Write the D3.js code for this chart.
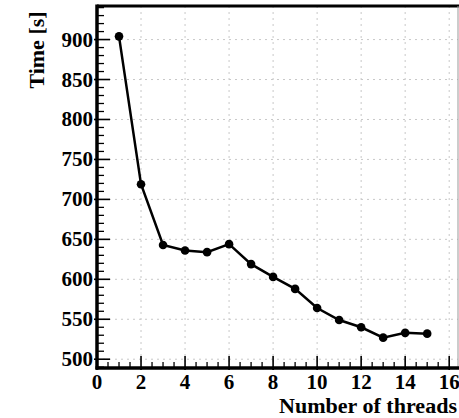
<!DOCTYPE html>
<html>
<head>
  <script src="https://d3js.org/d3.v7.min.js"></script>
  <style>
    body { margin: 0; background: #fff; }
    .tick-label { font-family: "Liberation Serif", "Times New Roman", serif; font-weight: bold; font-size: 21px; fill: #000; }
    .axis-title { font-family: "Liberation Serif", "Times New Roman", serif; font-weight: bold; fill: #000; }
  </style>
</head>
<body>
  <div id="chart"></div>
  <script>
    // thread count vs run time
    const threads = [1, 2, 3, 4, 5, 6, 7, 8, 9, 10, 11, 12, 13, 14, 15];
    const times = [904, 719, 643, 636, 634, 644, 619, 603, 588, 564, 549, 540, 527, 533, 532];
    const xTicks = [0, 2, 4, 6, 8, 10, 12, 14, 16];
    const yTicks = [500, 550, 600, 650, 700, 750, 800, 850, 900];

    const W = 459, H = 418;
    const pl = 97, pr = 458, pt = 6, pb = 368;

    const svg = d3.select("#chart").append("svg")
      .attr("width", W).attr("height", H);

    const x = d3.scaleLinear().domain([0, 16.4]).range([pl, pr]);
    const y = d3.scaleLinear().domain([489, 942]).range([pb, pt]);

    // dotted grid
    svg.append("g").selectAll("line")
      .data(xTicks.filter(d => d > 0))
      .enter().append("line")
      .attr("x1", d => x(d)).attr("x2", d => x(d))
      .attr("y1", pt).attr("y2", pb)
      .attr("stroke", "#c8c8c8").attr("stroke-width", 1)
      .attr("stroke-dasharray", "2,4");

    svg.append("g").selectAll("line")
      .data(yTicks)
      .enter().append("line")
      .attr("x1", pl).attr("x2", pr)
      .attr("y1", d => y(d)).attr("y2", d => y(d))
      .attr("stroke", "#c8c8c8").attr("stroke-width", 1)
      .attr("stroke-dasharray", "2,4");

    // minor ticks
    const xMinor = d3.range(0.5, 16.01, 0.5).filter(d => d % 2 !== 0);
    svg.append("g").selectAll("line")
      .data(xMinor).enter().append("line")
      .attr("x1", d => x(d)).attr("x2", d => x(d))
      .attr("y1", pb).attr("y2", pb - 6)
      .attr("stroke", "#000").attr("stroke-width", 1.3);

    const yMinor = d3.range(490, 941, 10).filter(d => d % 50 !== 0);
    svg.append("g").selectAll("line")
      .data(yMinor).enter().append("line")
      .attr("x1", pl).attr("x2", pl + 7)
      .attr("y1", d => y(d)).attr("y2", d => y(d))
      .attr("stroke", "#000").attr("stroke-width", 1.3);

    // major ticks
    svg.append("g").selectAll("line")
      .data(xTicks).enter().append("line")
      .attr("x1", d => x(d)).attr("x2", d => x(d))
      .attr("y1", pb + 2).attr("y2", pb - 12)
      .attr("stroke", "#000").attr("stroke-width", 1.6);

    svg.append("g").selectAll("line")
      .data(yTicks).enter().append("line")
      .attr("x1", pl - 3).attr("x2", pl + 13)
      .attr("y1", d => y(d)).attr("y2", d => y(d))
      .attr("stroke", "#000").attr("stroke-width", 1.6);

    // frame
    svg.append("line").attr("x1", pl).attr("x2", W).attr("y1", pt).attr("y2", pt)
      .attr("stroke", "#000").attr("stroke-width", 3);
    svg.append("line").attr("x1", pr).attr("x2", pr).attr("y1", pt).attr("y2", pb)
      .attr("stroke", "#999").attr("stroke-width", 1);
    svg.append("line").attr("x1", pl).attr("x2", pl).attr("y1", pt - 1.5).attr("y2", pb + 1.5)
      .attr("stroke", "#000").attr("stroke-width", 3.5);
    svg.append("line").attr("x1", pl - 1.5).attr("x2", W).attr("y1", pb).attr("y2", pb)
      .attr("stroke", "#000").attr("stroke-width", 3.5);

    // tick labels
    svg.append("g").selectAll("text")
      .data(xTicks).enter().append("text")
      .attr("class", "tick-label")
      .attr("x", d => x(d)).attr("y", 389)
      .attr("text-anchor", "middle")
      .text(d => d);

    svg.append("g").selectAll("text")
      .data(yTicks).enter().append("text")
      .attr("class", "tick-label")
      .attr("x", 93).attr("y", d => y(d) + 7)
      .attr("text-anchor", "end")
      .text(d => d);

    // axis titles
    svg.append("text").attr("class", "axis-title")
      .attr("x", 279).attr("y", 413)
      .style("font-size", "20px")
      .attr("textLength", 178)
      .attr("lengthAdjust", "spacingAndGlyphs")
      .text("Number of threads");

    svg.append("text").attr("class", "axis-title")
      .attr("transform", "translate(44,50) rotate(-90)")
      .attr("text-anchor", "middle")
      .style("font-size", "22px")
      .text("Time [s]");

    // line + markers
    const pts = threads.map((t, i) => [t, times[i]]);
    svg.append("path")
      .datum(pts)
      .attr("fill", "none").attr("stroke", "#000").attr("stroke-width", 2.5)
      .attr("d", d3.line().x(d => x(d[0])).y(d => y(d[1])));

    svg.append("g").selectAll("circle")
      .data(pts).enter().append("circle")
      .attr("cx", d => x(d[0])).attr("cy", d => y(d[1]))
      .attr("r", 4.3).attr("fill", "#000");
  </script>
</body>
</html>
